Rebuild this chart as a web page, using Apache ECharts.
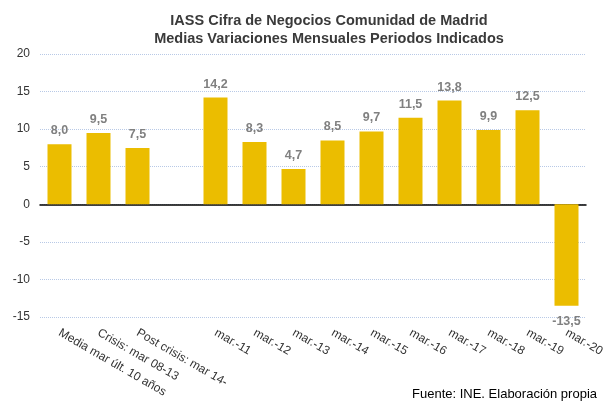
<!DOCTYPE html>
<html>
<head>
<meta charset="utf-8">
<script src="https://cdn.jsdelivr.net/npm/echarts@6/dist/echarts.min.js"></script>
<style>
html,body{margin:0;padding:0;background:#fff;}
#chart{width:611px;height:403px;}
</style>
</head>
<body>
<div id="chart"></div>
<script>
const categories = ["Media mar últ. 10 años", "Crisis: mar 08-13", "Post crisis: mar 14-", "", "mar.-11", "mar.-12", "mar.-13", "mar.-14", "mar.-15", "mar.-16", "mar.-17", "mar.-18", "mar.-19", "mar.-20"];
const values = [8.0, 9.5, 7.5, null, 14.2, 8.3, 4.7, 8.5, 9.7, 11.5, 13.8, 9.9, 12.5, -13.5];
const titleLines = ["IASS Cifra de Negocios Comunidad de Madrid", "Medias Variaciones Mensuales Periodos Indicados"];
const sourceText = "Fuente: INE. Elaboración propia";

const font = "'Liberation Sans', Arial, sans-serif";
const chart = echarts.init(document.getElementById('chart'), null, {renderer: 'canvas'});
chart.setOption({
  animation: false,
  backgroundColor: '#fff',
  title: {
    text: titleLines.join('\n'),
    left: 324,
    textAlign: 'center',
    top: 7,
    textStyle: {fontFamily: font, fontSize: 14.5, fontWeight: 'bold', color: '#3a3a3a', lineHeight: 18}
  },
  graphic: [{
    type: 'text', right: 14, top: 388,
    style: {text: sourceText, font: "13px 'Liberation Sans', Arial, sans-serif", fill: '#000'}
  }],
  grid: {left: 40, right: 25, top: 54, bottom: 86},
  xAxis: {
    type: 'category',
    data: categories,
    axisTick: {show: false},
    axisLine: {onZero: true, lineStyle: {color: '#000', width: 1.5}},
    axisLabel: {rotate: -30, interval: 0, margin: 15, fontFamily: font, fontSize: 12, color: '#333'}
  },
  yAxis: {
    type: 'value',
    min: -15, max: 20, interval: 5,
    axisLine: {show: false},
    axisTick: {show: false},
    axisLabel: {fontFamily: font, fontSize: 12, color: '#333', margin: 10},
    splitLine: {lineStyle: {color: '#b8c9e6', type: 'dotted', width: 1}}
  },
  series: [{
    type: 'bar',
    barWidth: 24,
    itemStyle: {color: '#EBBD00'},
    data: values.map(v => v === null ? null : {
      value: v,
      label: {position: v < 0 ? 'bottom' : 'top', distance: v < 0 ? 9 : 7}
    }),
    label: {
      show: true,
      fontFamily: font, fontSize: 12.5, fontWeight: 'bold', color: '#808080',
      formatter: p => p.value == null ? '' : p.value.toFixed(1).replace('.', ',')
    }
  }]
});
</script>
</body>
</html>
